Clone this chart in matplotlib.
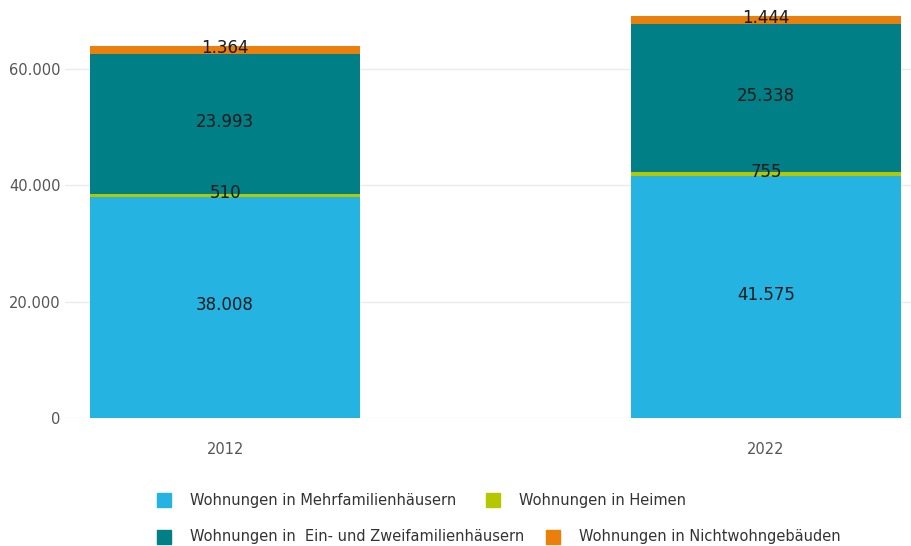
import matplotlib
matplotlib.use("Agg")
import matplotlib.pyplot as plt
import numpy as np
from matplotlib.patches import Rectangle

plt.rcParams["font.family"] = ["DejaVu Sans"]

years = ["2012", "2022"]
series_names = [
    "Wohnungen in Mehrfamilienhäusern",
    "Wohnungen in Heimen",
    "Wohnungen in  Ein- und Zweifamilienhäusern",
    "Wohnungen in Nichtwohngebäuden",
]
mehrfamilien = [38008, 41575]
heime = [510, 755]
einzwei = [23993, 25338]
nichtwohn = [1364, 1444]
colors = ["#25b3e2", "#b3c800", "#007f86", "#ea7f0c"]
yticks = [0, 20000, 40000, 60000]
ytick_labels = ["0", "20.000", "40.000", "60.000"]

W, H = 912, 546
fig = plt.figure(figsize=(W / 100, H / 100), dpi=100)
ax = fig.add_axes([65 / W, (H - 418) / H, (W - 65) / W, 418 / H])

x = np.arange(len(years))
bottom = np.zeros(len(years))
for vals, col in zip([mehrfamilien, heime, einzwei, nichtwohn], colors):
    vals = np.array(vals, dtype=float)
    ax.bar(x, vals, width=0.5, bottom=bottom, color=col, zorder=2)
    for xi, v, b in zip(x, vals, bottom):
        lab = f"{int(v):,}".replace(",", ".")
        ax.annotate(lab, (xi, b + v / 2), xytext=(0, 1.5),
                    textcoords="offset points", ha="center", va="center",
                    fontsize=12, color="#1a1a1a", zorder=3)
    bottom += vals

ax.set_xlim(-0.296, 1.27)
ax.set_ylim(0, 71860)
ax.set_yticks(yticks)
ax.set_yticklabels(ytick_labels)
ax.set_xticks(x)
ax.set_xticklabels(years)
ax.tick_params(axis="both", length=0, labelsize=10.5, labelcolor="#555555")
ax.tick_params(axis="y", pad=3)
ax.tick_params(axis="x", pad=17)
for s in ax.spines.values():
    s.set_visible(False)
ax.grid(axis="y", color="#ebebeb", linewidth=1, zorder=0)
ax.set_axisbelow(True)

# legend (flowing layout)
items = [
    (157, 500, 0), (486, 500, 1),
    (157, 537, 2), (546, 537, 3),
]
for px, py, i in items:
    fig.patches.append(Rectangle((px / W, (H - py - 7) / H), 14 / W, 14 / H,
                                 transform=fig.transFigure, color=colors[i]))
    fig.text((px + 33) / W, (H - py) / H, series_names[i], ha="left",
             va="center", fontsize=10.5, color="#333333")

fig.savefig("out.png", dpi=100)
